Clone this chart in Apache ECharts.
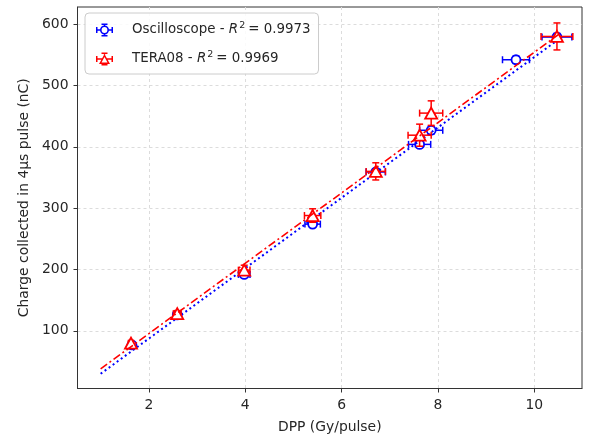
<!DOCTYPE html>
<html>
<head>
<meta charset="utf-8">
<script src="https://cdn.jsdelivr.net/npm/echarts@6/dist/echarts.min.js"></script>
<style>html,body{margin:0;padding:0;background:#fff}#c{width:595px;height:437px}</style>
</head>
<body>
<div id="c"></div>
<script>
// ---- data ----
const seriesNames = ['Oscilloscope', 'TERA08'];
const r2Values = ['0.9973', '0.9969'];

const dppOsc      = [1.65, 2.59, 3.98, 5.40, 6.71, 7.62, 7.86, 9.62, 10.47];
const chargeOsc   = [77, 126, 192, 274, 359, 404, 427, 542, 579];
const dppErrOsc   = [0.05, 0.08, 0.12, 0.16, 0.20, 0.23, 0.24, 0.28, 0.31];
const chargeErrOsc= [1, 2, 3, 4, 5, 5, 6, 6, 6];

const dppTera      = [1.63, 2.59, 3.98, 5.40, 6.71, 7.62, 7.86, 10.47];
const chargeTera   = [80, 128, 199, 288, 360, 419, 455, 580];
const dppErrTera   = [0.05, 0.08, 0.12, 0.17, 0.20, 0.24, 0.24, 0.33];
const chargeErrTera= [3, 5, 8, 11, 14, 18, 20, 22];

const fitX    = [1.0, 10.5];
const fitOsc  = [30, 575];
const fitTera = [38, 583];

const xTicks = [2, 4, 6, 8, 10];
const yTicks = [100, 200, 300, 400, 500, 600];

// ---- styling ----
const FONT = 'DejaVu Sans';
const TXT = '#262626';
const BLUE = '#0000ff';
const RED = '#ff0000';
const AX_FS = 13.9;
const LG_FS = 13.4;

function zip2(a, b) { return a.map((v, i) => [v, b[i]]); }
function zip4(a, b, c, d) { return a.map((v, i) => [v, b[i], c[i], d[i]]); }

function errRender(color) {
  return function (params, api) {
    const x = api.value(0), y = api.value(1), xe = api.value(2), ye = api.value(3);
    const l = api.coord([x - xe, y]), r = api.coord([x + xe, y]);
    const t = api.coord([x, y + ye]), b = api.coord([x, y - ye]);
    const cap = 3.5;
    const st = { stroke: color, lineWidth: 1.5 };
    const ln = (x1, y1, x2, y2) => ({ type: 'line', shape: { x1, y1, x2, y2 }, style: st });
    return {
      type: 'group',
      children: [
        ln(l[0], l[1], r[0], r[1]),
        ln(l[0], l[1] - cap, l[0], l[1] + cap),
        ln(r[0], r[1] - cap, r[0], r[1] + cap),
        ln(t[0], t[1], b[0], b[1]),
        ln(t[0] - cap, t[1], t[0] + cap, t[1]),
        ln(b[0] - cap, b[1], b[0] + cap, b[1])
      ]
    };
  };
}

const circleIcon = 'path://' +
  'M4,6.5 A4.5,4.5 0 1,1 13,6.5 A4.5,4.5 0 1,1 4,6.5 Z ' +
  'M5.6,6.5 A2.9,2.9 0 1,0 11.4,6.5 A2.9,2.9 0 1,0 5.6,6.5 Z ' +
  'M0,5.75 H4.4 V7.25 H0 Z M0,3.5 H1.5 V9.5 H0 Z ' +
  'M12.6,5.75 H17 V7.25 H12.6 Z M15.5,3.5 H17 V9.5 H15.5 Z ' +
  'M7.75,0 H9.25 V2.4 H7.75 Z M5.5,0 H11.5 V1.5 H5.5 Z ' +
  'M7.75,10.6 H9.25 V13 H7.75 Z M5.5,11.5 H11.5 V13 H5.5 Z';
const triIcon = 'path://' +
  'M8.5,1.5 L14,11.5 L3,11.5 Z ' +
  'M8.5,4.6 L5.5,10 L11.5,10 Z ' +
  'M0,5.75 H6.2 V7.25 H0 Z M0,3.5 H1.5 V9.5 H0 Z ' +
  'M10.8,5.75 H17 V7.25 H10.8 Z M15.5,3.5 H17 V9.5 H15.5 Z ' +
  'M7.75,0 H9.25 V2 H7.75 Z M5.5,0 H11.5 V1.5 H5.5 Z ' +
  'M5.5,11.5 H11.5 V13 H5.5 Z';

const chart = echarts.init(document.getElementById('c'), null, { renderer: 'canvas' });
chart.setOption({
  animation: false,
  backgroundColor: '#ffffff',
  textStyle: { fontFamily: FONT },
  grid: {
    left: 77.5, right: 13, top: 7, bottom: 48.5,
    containLabel: false, outerBoundsMode: 'none',
    show: true, borderColor: '#333', borderWidth: 1, backgroundColor: 'transparent'
  },
  legend: {
    orient: 'vertical',
    left: 85, top: 13,
    padding: [8, 8, 6, 11],
    itemGap: 11,
    itemWidth: 17, itemHeight: 13,
    backgroundColor: 'rgba(255,255,255,0.85)',
    borderColor: '#cccccc', borderWidth: 1, borderRadius: 4,
    selectedMode: false,
    itemStyle: { borderWidth: 0 },
    data: [
      { name: seriesNames[0], icon: circleIcon, itemStyle: { color: BLUE, borderWidth: 0 } },
      { name: seriesNames[1], icon: triIcon, itemStyle: { color: RED, borderWidth: 0 } }
    ],
    formatter: function (name) {
      const i = seriesNames.indexOf(name);
      return '{sp|}' + name + ' - {i|R}{s|2}= ' + r2Values[i];
    },
    textStyle: {
      fontFamily: FONT, fontSize: LG_FS, color: TXT, lineHeight: 18,
      rich: {
        sp: { width: 14 },
        i: { fontFamily: FONT, fontStyle: 'italic', fontSize: LG_FS, color: TXT },
        s: { fontFamily: FONT, fontSize: 9.5, color: TXT, verticalAlign: 'top', lineHeight: 10, padding: [0, 3, 0, 1] }
      }
    }
  },
  xAxis: {
    type: 'value',
    min: 0.52, max: 10.99,
    name: 'DPP (Gy/pulse)',
    nameLocation: 'middle', nameGap: 32,
    nameTextStyle: { fontFamily: FONT, fontSize: AX_FS, color: TXT },
    axisLine: { show: true, onZero: false, lineStyle: { color: '#333', width: 1 } },
    axisTick: { show: true, length: 4, inside: false, customValues: xTicks, lineStyle: { color: '#333' } },
    axisLabel: { customValues: xTicks, margin: 10, fontFamily: FONT, fontSize: AX_FS, color: TXT },
    splitLine: { show: true, lineStyle: { color: '#dcdcdc', type: [3, 3], width: 1 } }
  },
  yAxis: {
    type: 'value',
    min: 6, max: 628,
    name: 'Charge collected in 4\u03bcs pulse (nC)',
    nameLocation: 'middle', nameGap: 46,
    nameTextStyle: { fontFamily: FONT, fontSize: AX_FS, color: TXT },
    axisLine: { show: true, onZero: false, lineStyle: { color: '#333', width: 1 } },
    axisTick: { show: true, length: 4, inside: false, customValues: yTicks, lineStyle: { color: '#333' } },
    axisLabel: { customValues: yTicks, margin: 9, fontFamily: FONT, fontSize: AX_FS, color: TXT },
    splitLine: { show: true, lineStyle: { color: '#dcdcdc', type: [3, 3], width: 1 } }
  },
  series: [
    {
      name: 'oscErr', type: 'custom', renderItem: errRender(BLUE),
      data: zip4(dppOsc, chargeOsc, dppErrOsc, chargeErrOsc),
      encode: { x: 0, y: 1 }, silent: true, clip: false, z: 3
    },
    {
      name: seriesNames[0], type: 'scatter', data: zip2(dppOsc, chargeOsc),
      symbol: 'circle', symbolSize: 9,
      itemStyle: { color: '#ffffff', borderColor: BLUE, borderWidth: 1.8, opacity: 1 },
      silent: true, clip: false, z: 4
    },
    {
      name: 'oscFit', type: 'line', data: zip2(fitX, fitOsc),
      showSymbol: false, symbol: 'none', silent: true,
      lineStyle: { color: BLUE, width: 2, type: [2, 3] }, z: 5
    },
    {
      name: 'teraErr', type: 'custom', renderItem: errRender(RED),
      data: zip4(dppTera, chargeTera, dppErrTera, chargeErrTera),
      encode: { x: 0, y: 1 }, silent: true, clip: false, z: 6
    },
    {
      name: seriesNames[1], type: 'scatter', data: zip2(dppTera, chargeTera),
      symbol: 'triangle', symbolSize: [12, 11],
      itemStyle: { color: '#ffffff', borderColor: RED, borderWidth: 1.8, opacity: 1 },
      silent: true, clip: false, z: 7
    },
    {
      name: 'teraFit', type: 'line', data: zip2(fitX, fitTera),
      showSymbol: false, symbol: 'none', silent: true,
      lineStyle: { color: RED, width: 1.6, type: [8, 3, 2, 3] }, z: 8
    }
  ]
});
</script>
</body>
</html>
